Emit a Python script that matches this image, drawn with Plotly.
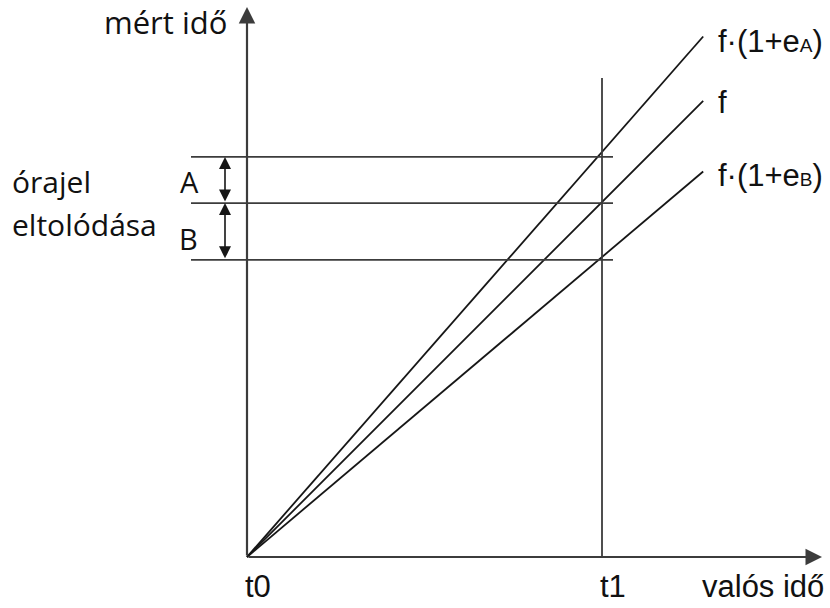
import plotly.graph_objects as go

# Clock rates: measured time per unit of real time
series_labels = ["f·(1+e<span style='font-size:19px'>A</span>)", "f",
                 "f·(1+e<span style='font-size:19px'>B</span>)"]
rates = [1.141, 1.0, 0.845]
# Readings of the three clocks at t1 (horizontal marker levels)
levels_at_t1 = [1.127, 0.997, 0.837]
t_ticks = [0.0, 1.0]
t_labels = ["t0", "t1"]
t_line_end = 1.285
offset_labels = ["A", "B"]

W, H = 830, 608
OX, OY = 247, 557        # pixel position of the origin
S = 355                  # pixels per unit on both axes


def px(x, y):
    """Pixel position -> data coordinates."""
    return (x - OX) / S, (OY - y) / S


fig = go.Figure()

ink = "#161616"
grey = "#3c3c3c"

# the three clock lines
for r in rates:
    fig.add_trace(go.Scatter(x=[0, t_line_end], y=[0, r * t_line_end], mode="lines",
                             line=dict(color=ink, width=1.8), hoverinfo="skip",
                             showlegend=False))

# horizontal markers at the readings
hx0, _ = px(191, 0)
hx1, _ = px(613, 0)
for lv in levels_at_t1:
    fig.add_shape(type="line", x0=hx0, x1=hx1, y0=lv, y1=lv,
                  line=dict(color=grey, width=1.8))

# vertical at t1
_, vtop = px(0, 78)
fig.add_shape(type="line", x0=t_ticks[1], x1=t_ticks[1], y0=0, y1=vtop,
              line=dict(color=grey, width=1.8))

# axes with arrows
xa_end, _ = px(822, 0)
_, ya_end = px(0, 7)
for tip in [(xa_end, 0), (0, ya_end)]:
    fig.add_annotation(x=tip[0], y=tip[1], ax=0, ay=0, xref="x", yref="y",
                       axref="x", ayref="y", text="", showarrow=True, arrowhead=2,
                       arrowsize=1.5, arrowwidth=2.2, arrowcolor=grey,
                       standoff=0, startstandoff=0)

# double arrows showing the clock offsets
dx, _ = px(225, 0)
for lo, hi in [(levels_at_t1[1], levels_at_t1[0]), (levels_at_t1[2], levels_at_t1[1])]:
    fig.add_annotation(x=dx, y=hi, ax=dx, ay=lo, xref="x", yref="y", axref="x", ayref="y",
                       text="", showarrow=True, arrowhead=2, arrowside="end+start",
                       arrowsize=1.5, arrowwidth=1.6, arrowcolor=ink,
                       standoff=0, startstandoff=0)

seg = "Open Sans, Noto Sans, sans-serif"
ari = "Liberation Sans, Arial, sans-serif"
tc = "#111111"


def label(text, xpx, ypx, anchor="left", family=seg, size=30):
    x, y = px(xpx, ypx)
    fig.add_annotation(x=x, y=y, xref="x", yref="y", text=text, showarrow=False,
                       xanchor=anchor, yanchor="middle",
                       font=dict(family=family, size=size, color=tc))


label("mért idő", 229, 22, anchor="right", size=31)
label("órajel", 10, 181)
label("eltolódása", 10, 224)
label(offset_labels[0], 189, 181, anchor="center", size=29)
label(offset_labels[1], 188, 238, anchor="center", size=29)

for txt, r, yp in zip(series_labels, rates, [41, 102, 175]):
    label(txt, 716, yp, family=ari, size=31)

for t, lab in zip(t_ticks, t_labels):
    label(lab, OX + t * S - 4, 586, family=ari, size=31)
label("valós idő", 826, 586, anchor="right", family=ari, size=31)

fig.update_layout(
    width=W, height=H, margin=dict(l=0, r=0, t=0, b=0),
    paper_bgcolor="white", plot_bgcolor="white",
    xaxis=dict(range=[px(0, 0)[0], px(W, 0)[0]], visible=False, fixedrange=True),
    yaxis=dict(range=[px(0, H)[1], px(0, 0)[1]], visible=False, fixedrange=True),
)

fig.write_html("out.html")
